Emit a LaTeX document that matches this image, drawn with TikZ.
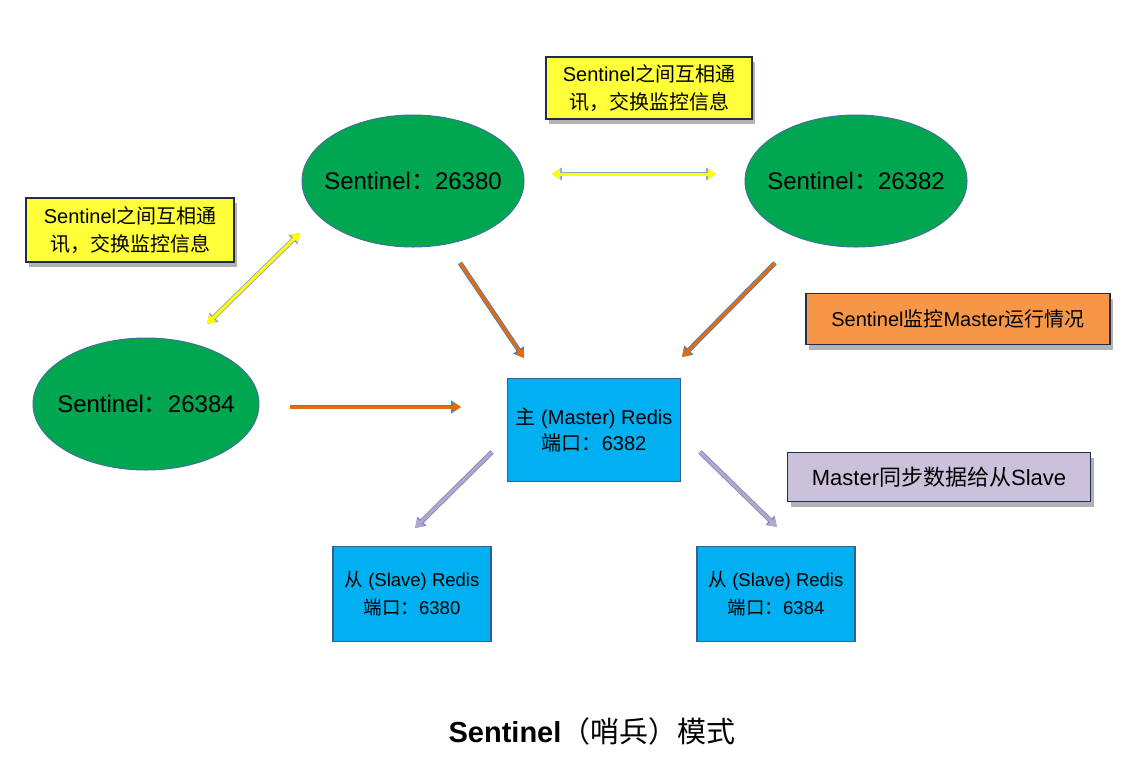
\documentclass[tikz,border=0pt]{standalone}
\usepackage{fontspec}
\setmainfont{Liberation Sans}
\newfontfamily\cjkfont{Noto Sans CJK SC}
\newcommand\zh[1]{{\cjkfont #1}}
\usetikzlibrary{shapes.geometric,arrows.meta,shadows}
\definecolor{sentgreen}{HTML}{00A650}
\definecolor{sentborder}{HTML}{41719C}
\definecolor{noteyellow}{HTML}{FFFF3A}
\definecolor{noteborder}{HTML}{1F2D50}
\definecolor{noteorange}{HTML}{F79646}
\definecolor{notepurple}{HTML}{CCC1DA}
\definecolor{redisblue}{HTML}{00B0F0}
\definecolor{redisborder}{HTML}{3A5F8F}
\definecolor{arrorange}{HTML}{E46C0A}
\definecolor{arrblue}{HTML}{4F81BD}
\definecolor{arryellow}{HTML}{FFFF00}
\definecolor{arryellowedge}{HTML}{8FA8C8}
\definecolor{arrlav}{HTML}{B3A6CF}
\definecolor{arrlavedge}{HTML}{7F90B8}
\begin{document}
\begin{tikzpicture}[x=1pt,y=-1pt,
  sent/.style={ellipse, draw=sentborder, line width=1pt, fill=sentgreen, inner sep=0pt},
  senttext/.style={font=\fontsize{24}{28}\selectfont, inner sep=0pt},
  note/.style={rectangle, draw=noteborder, line width=1.5pt, inner sep=0pt, align=center,
    drop shadow={shadow xshift=3pt, shadow yshift=-5pt, fill=black, opacity=0.3},
    font=\fontsize{20}{28}\selectfont},
  redis/.style={rectangle, draw=redisborder, line width=1.2pt, fill=redisblue, inner sep=0pt,
    align=center},
  tube/.style n args={2}{draw=#1, line width=3pt, preaction={draw=#2, line width=4.8pt}},
  tip/.style={-{Triangle[length=5pt 1, width=6pt 1.3]}},
  tips/.style={{Triangle[length=5pt 1, width=6pt 1.3]}-{Triangle[length=5pt 1, width=6pt 1.3]}}
]
\useasboundingbox[fill=white] (0,0) rectangle (1145,763);

% Sentinel ellipses
\node[sent, minimum width=222, minimum height=132] (s80) at (413,181) {};
\node[sent, minimum width=222, minimum height=132] (s82) at (856,181) {};
\node[sent, minimum width=226, minimum height=132] (s84) at (146,404) {};
\node[senttext] (t80) at (s80.center) {Sentinel\zh{：}26380};
\node[senttext] (t82) at (s82.center) {Sentinel\zh{：}26382};
\node[senttext] (t84) at (s84.center) {Sentinel\zh{：}26384};

% Notes
\node[note, fill=noteyellow, minimum width=206, minimum height=62] (n1) at (649,88)
  {Sentinel\zh{之间互相通}\\\zh{讯，交换监控信息}};
\node[note, fill=noteyellow, minimum width=208, minimum height=64] (n2) at (130,230)
  {Sentinel\zh{之间互相通}\\\zh{讯，交换监控信息}};
\node[note, fill=noteorange, minimum width=304, minimum height=51] (n3) at (958,319)
  {Sentinel\zh{监控}Master\zh{运行情况}};
\node[note, fill=notepurple, minimum width=303, minimum height=49, font=\fontsize{22}{28}\selectfont] (n4) at (939,477)
  {Master\zh{同步数据给从}Slave};

% Redis boxes
\node[redis, minimum width=173, minimum height=103, font=\fontsize{20}{26}\selectfont] (m) at (594,430)
  {\zh{主} (Master) Redis\\\zh{端口：}6382};
\node[redis, minimum width=158, minimum height=95, font=\fontsize{18.5}{28}\selectfont] (sl1) at (412,594)
  {\zh{从} (Slave) Redis\\\zh{端口：}6380};
\node[redis, minimum width=158, minimum height=95, font=\fontsize{18.5}{28}\selectfont] (sl2) at (776,594)
  {\zh{从} (Slave) Redis\\\zh{端口：}6384};

% Title
\node[font=\fontsize{29}{34}\selectfont] (title) at (592,731) {\textbf{Sentinel}\zh{（哨兵）模式}};

% Arrow end points
\coordinate (ya1) at (552,174); \coordinate (ya2) at (716,174);
\coordinate (yb1) at (300,233); \coordinate (yb2) at (207,324);
\coordinate (oa1) at (460,263); \coordinate (oa2) at (524,358);
\coordinate (ob1) at (775,263); \coordinate (ob2) at (682,357);
\coordinate (h1) at (290,407);  \coordinate (h2) at (461,407);
\coordinate (la1) at (492,452); \coordinate (la2) at (415,528);
\coordinate (lb1) at (700,452); \coordinate (lb2) at (777,527);

\draw[tube={arryellow}{arryellowedge}, tips] (ya1) -- (ya2);
\draw[tube={arryellow}{arryellowedge}, tips] (yb1) -- (yb2);
\draw[tube={arrorange}{arrblue}, tip] (oa1) -- (oa2);
\draw[tube={arrorange}{arrblue}, tip] (ob1) -- (ob2);
\draw[tube={arrorange}{arrblue}, tip] (h1) -- (h2);
\draw[tube={arrlav}{arrlavedge}, tip] (la1) -- (la2);
\draw[tube={arrlav}{arrlavedge}, tip] (lb1) -- (lb2);
\end{tikzpicture}
\end{document}
